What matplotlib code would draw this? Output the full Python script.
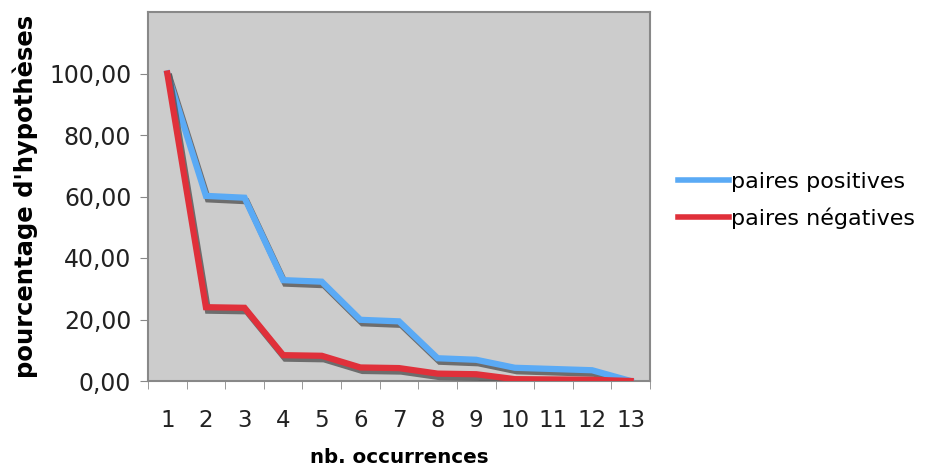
import matplotlib.pyplot as plt
import matplotlib.patheffects as pe
from matplotlib.lines import Line2D
import numpy as np

# data
occurrences = list(range(1, 14))
paires_positives = [100, 60.2, 59.6, 32.8, 32.3, 19.9, 19.4, 7.4, 6.9, 4.3, 3.9, 3.5, 0]
paires_negatives = [100, 24.0, 23.8, 8.4, 8.2, 4.4, 4.2, 2.4, 2.2, 0.6, 0.5, 0.4, 0]
y_ticks = [0, 20, 40, 60, 80, 100]

blue = '#5aaaf5'
red = '#e0303a'

fig = plt.figure(figsize=(9.31, 4.68), dpi=100)
ax = fig.add_axes([148 / 931, 1 - 381 / 468, (650 - 148) / 931, (381 - 12) / 468])
ax.set_facecolor('#cccccc')

shadow = [pe.SimpleLineShadow(offset=(1.5, -2.5), shadow_color='#555555', alpha=0.8), pe.Normal()]
ax.plot(occurrences, paires_positives, color=blue, lw=4.5,
        path_effects=shadow, solid_joinstyle='miter', zorder=3)
ax.plot(occurrences, paires_negatives, color=red, lw=4.5,
        path_effects=shadow, solid_joinstyle='miter', zorder=4)

ax.set_xlim(0.5, 13.5)
ax.set_ylim(0, 120)
ax.set_xticks(occurrences)
ax.set_xticks(np.arange(0.5, 14, 1), minor=True)
ax.tick_params(axis='x', which='major', length=0, pad=20, labelsize=16.5, colors='#222222')
ax.tick_params(axis='x', which='minor', length=6, color='#888888', direction='out')
ax.set_yticks(y_ticks)
ax.set_yticklabels([f"{v:.2f}".replace('.', ',') for v in y_ticks])
ax.tick_params(axis='y', length=6, color='#888888', labelsize=17, labelcolor='#222222', pad=6)

for s in ax.spines.values():
    s.set_color('#888888')
    s.set_linewidth(1.5)

ax.set_xlabel('nb. occurrences', fontsize=14.3, fontweight='bold', labelpad=12)
ax.set_ylabel("pourcentage d'hypothèses", fontsize=17.5, fontweight='bold', labelpad=8)

handles = [Line2D([], [], color=blue, lw=4), Line2D([], [], color=red, lw=4)]
ax.legend(handles, ['paires positives', 'paires négatives'], loc='center left',
          bbox_to_anchor=(1.055, 0.49), frameon=False, fontsize=16,
          handlelength=2.3, handletextpad=0.12, labelspacing=0.7, borderpad=0,
          borderaxespad=0)

fig.savefig('out.png', dpi=100)
